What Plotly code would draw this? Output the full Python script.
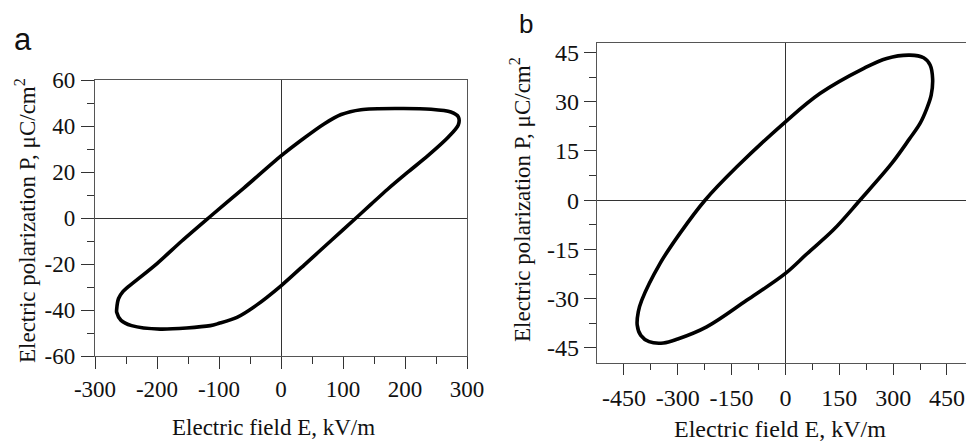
import plotly.graph_objects as go

# ---------------- data ----------------
# Panel a: hysteresis loop (E in kV/m, P in uC/cm2)
a_E = [-265, -262, -255, -249, -200, -160, -117, -60, 0, 32, 70, 97, 129, 188, 242, 274,
       286, 286, 270, 237, 204, 172, 145, 121, 81, 40, 0, -40, -71, -100, -114, -195, -241,
       -258, -265, -265]
a_P = [-39.5, -35, -32, -30.5, -19.8, -10, 0, 13, 27, 33.7, 41, 45, 47.1, 47.6, 47.3, 46.1,
       44, 40.5, 35.2, 27.1, 19.8, 12.5, 5.9, 0, -9.8, -19.8, -29.5, -38, -43.2, -45.8, -46.8,
       -48.3, -46.8, -44.5, -41, -39.5]

# Panel b: hysteresis loop
b_E = [347, 385, 403, 410, 406, 394, 375, 345, 296, 207.5, 133, 60, 0, -108, -219.5, -300,
       -340, -380, -403, -413, -410, -400.5, -349.6, -294, -224, -136, 0, 96, 217, 282, 347]
b_P = [44.2, 43.4, 41.2, 37.0, 32.0, 28.0, 23.4, 18.6, 11.2, 0, -9.1, -16.3, -22.3, -30.5,
       -38.6, -42.3, -43.5, -43.1, -41.2, -38.0, -34.0, -30.5, -19.3, -10.1, 0, 10.1, 23.9,
       32.5, 40.1, 43.2, 44.2]

# ticks
a_xticks = [-300, -200, -100, 0, 100, 200, 300]
a_xtext = ["-300", "-200", "-100", "0", "100", "200", "300"]
a_xminor = [-250, -150, -50, 50, 150, 250]
a_yticks = [-60, -40, -20, 0, 20, 40, 60]
a_ytext = ["-60", "-40", "-20", "0", "20", "40", "60"]
a_yminor = [-50, -30, -10, 10, 30, 50]

b_xticks = [-450, -300, -150, 0, 150, 300, 450]
b_xtext = ["-450", "-300", "-150", "0", "150", "300", "450"]
b_xminor = [-375, -225, -75, 75, 225, 375]
b_yticks = [-45, -30, -15, 0, 15, 30, 45]
b_ytext = ["-45", "-30", "-15", "0", "15", "30", "45"]
b_yminor = [-37.5, -22.5, -7.5, 7.5, 22.5, 37.5]

x_title = "Electric field E, kV/m"
y_title = "Electric polarization P, μC/cm<sup>2</sup>"

# ---------------- figure ----------------
W, H = 966, 443
SERIF = "Times New Roman, Liberation Serif, serif"
SANS = "Arial, Liberation Sans, sans-serif"
FRAME = "#555555"
ZERO = "#333333"
TICKC = "#333333"


def px(x):
    return x / W


def py(y):
    return 1 - y / H


fig = go.Figure()
fig.add_trace(go.Scatter(x=a_E, y=a_P, mode="lines", xaxis="x", yaxis="y",
                         line=dict(color="black", width=3.6, shape="spline", smoothing=0.8),
                         showlegend=False, hoverinfo="skip"))
fig.add_trace(go.Scatter(x=b_E, y=b_P, mode="lines", xaxis="x2", yaxis="y2",
                         line=dict(color="black", width=3.6, shape="spline", smoothing=1.0),
                         showlegend=False, hoverinfo="skip"))


def axis(domain, rng, tickvals, ticktext, minorvals, anchor, mirror, ticklen, mlen, fs, standoff):
    return dict(
        domain=domain, range=rng, anchor=anchor, autorange=False, automargin=False,
        tickmode="array", tickvals=tickvals, ticktext=ticktext,
        ticks="outside", ticklen=ticklen, tickwidth=1.3, tickcolor=TICKC,
        ticklabelstandoff=standoff,
        minor=dict(tickmode="array", tickvals=minorvals, ticks="outside",
                   ticklen=mlen, tickwidth=1.3, tickcolor=TICKC, showgrid=False),
        showline=True, linecolor=FRAME, linewidth=1.3, mirror=mirror,
        showgrid=False, zeroline=True, zerolinecolor=ZERO, zerolinewidth=1.2,
        tickfont=dict(family=SERIF, size=fs, color="#111111"),
        fixedrange=True,
    )


fig.update_layout(
    width=W, height=H, autosize=False,
    margin=dict(l=0, r=0, t=0, b=0, pad=0, autoexpand=False),
    paper_bgcolor="white", plot_bgcolor="white",
    xaxis=axis([px(95), px(467)], [-300, 300], a_xticks, a_xtext, a_xminor, "y", True, 12, 7, 23, 0),
    yaxis=axis([py(356), py(80)], [-60, 60], a_yticks, a_ytext, a_yminor, "x", True, 13, 7, 23, 1),
    xaxis2=axis([px(597), 1.0], [-525, 503], b_xticks, b_xtext, b_xminor, "y2", True, 11, 6, 24, 2),
    yaxis2=axis([py(363), py(43)], [-49.6, 47.9], b_yticks, b_ytext, b_yminor, "x2", False, 12, 7, 24, 0),
)

ann = []
# axis titles
ann.append(dict(text=x_title, x=px(273), y=py(427), xref="paper", yref="paper",
                xanchor="center", yanchor="middle", showarrow=False,
                font=dict(family=SERIF, size=23, color="#111111")))
ann.append(dict(text=y_title, x=px(25), y=py(221), xref="paper", yref="paper",
                xanchor="center", yanchor="middle", showarrow=False, textangle=-90,
                font=dict(family=SERIF, size=23, color="#111111")))
ann.append(dict(text=x_title, x=px(780), y=py(429), xref="paper", yref="paper",
                xanchor="center", yanchor="middle", showarrow=False,
                font=dict(family=SERIF, size=24, color="#111111")))
ann.append(dict(text=y_title, x=px(521), y=py(200), xref="paper", yref="paper",
                xanchor="center", yanchor="middle", showarrow=False, textangle=-90,
                font=dict(family=SERIF, size=23, color="#111111")))
# panel letters
ann.append(dict(text="a", x=px(23), y=py(39), xref="paper", yref="paper",
                xanchor="center", yanchor="middle", showarrow=False,
                font=dict(family=SANS, size=31, color="#111111")))
ann.append(dict(text="b", x=px(526), y=py(24), xref="paper", yref="paper",
                xanchor="center", yanchor="middle", showarrow=False,
                font=dict(family=SANS, size=26, color="#111111")))
fig.update_layout(annotations=ann)

fig.write_html("out.html", config={"displayModeBar": False},
               post_script="document.body.style.margin='0';document.body.style.overflow='hidden';")
